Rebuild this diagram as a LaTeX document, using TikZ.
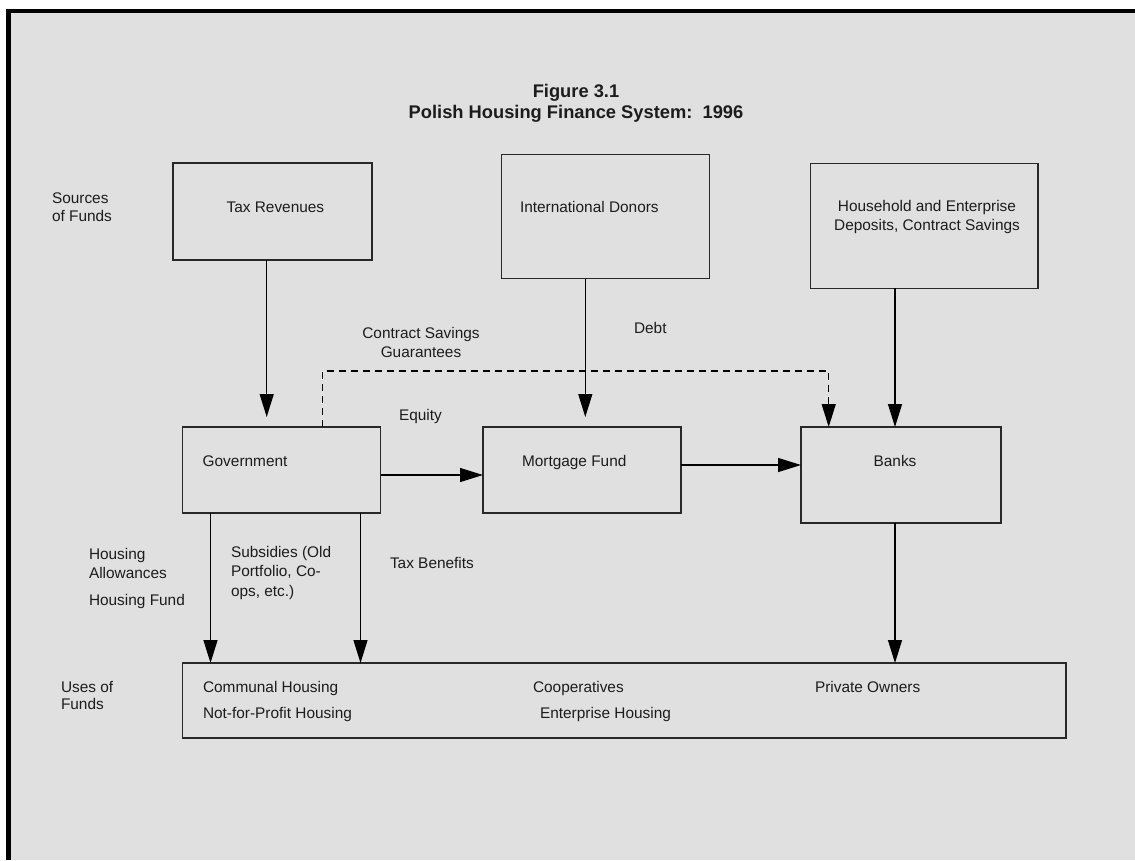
\documentclass[tikz,border=0pt]{standalone}
\usepackage{fontspec}
\setmainfont{Liberation Sans}
\usetikzlibrary{arrows.meta}
\definecolor{panel}{RGB}{224,224,224}
\definecolor{ink}{RGB}{28,28,28}
\definecolor{edge}{RGB}{40,40,40}

\begin{document}
\begin{tikzpicture}[x=1pt,y=-1pt,
  box/.style={draw=edge, line width=1.3pt, inner sep=0pt, outer sep=0pt},
  lbl/.style={inner sep=0pt, outer sep=0pt, text=ink, font=\fontsize{15.4}{19}\selectfont},
  arr/.style={draw=black, line width=1.3pt, -{Triangle[length=23pt,width=14pt]}},
  dasharr/.style={arr, dash pattern=on 7pt off 5pt}
]
% page and framed panel
\useasboundingbox (0,0) rectangle (1135,860);
\fill[white] (0,0) rectangle (1135,860);
\fill[black] (6,9) rectangle (1135,860);
\fill[panel] (10.5,12.5) rectangle (1135,860);

% title
\node[inner sep=0pt, text=ink, align=center,
      font=\bfseries\fontsize{18.3}{21}\selectfont] (title) at (576,103)
  {Figure 3.1\\Polish Housing Finance System:\ \ 1996};

% boxes
\node[box, minimum width=199pt, minimum height=97pt]  (tax)   at (272.5,211.5) {};
\node[box, minimum width=207.6pt, minimum height=124pt] (donors) at (605.5,216.7) {};
\node[box, minimum width=227.3pt, minimum height=125pt] (house) at (924.3,225.7) {};
\node[box, minimum width=198pt, minimum height=86pt]  (gov)   at (281.7,470) {};
\node[box, minimum width=198pt, minimum height=86pt]  (mort)  at (582,470) {};
\node[box, minimum width=200pt, minimum height=96pt]  (banks) at (901,475) {};
\node[box, minimum width=883.5pt, minimum height=75pt] (uses) at (624.3,700.5) {};

% texts inside boxes
\node[lbl, anchor=base] (taxtxt) at (275.4,212.5) {Tax Revenues};
\node[lbl, anchor=base west] (donorstxt) at (520,212.5) {International Donors};
\node[lbl, align=center, font=\fontsize{15.4}{18.3}\selectfont] (housetxt) at (927,217)
  {Household and Enterprise\\Deposits, Contract Savings};
\node[lbl, anchor=base west] (govtxt) at (202.7,466.5) {Government};
\node[lbl, anchor=base west] (morttxt) at (522,466.5) {Mortgage Fund};
\node[lbl, anchor=base] (bankstxt) at (895,466.5) {Banks};
\node[lbl, anchor=base west] (communal) at (203,692.5) {Communal Housing};
\node[lbl, anchor=base west] (nfp) at (203,718.5) {Not-for-Profit Housing};
\node[lbl, anchor=base west] (coop) at (533,692.5) {Cooperatives};
\node[lbl, anchor=base west] (enterprise) at (540,718.5) {Enterprise Housing};
\node[lbl, anchor=base west] (private) at (815,692.5) {Private Owners};

% side captions
\node[lbl, anchor=west, align=left, font=\fontsize{15.4}{18}\selectfont] (sources) at (52,207) {Sources\\of Funds};
\node[lbl, anchor=west, align=left, font=\fontsize{15.4}{17}\selectfont] (usesof) at (61,695) {Uses of\\Funds};

% flow labels
\node[lbl, align=center] (cs) at (421,342) {Contract Savings\\Guarantees};
\node[lbl, anchor=base west] (debt) at (634,333.5) {Debt};
\node[lbl, anchor=base west] (equity) at (399,420.5) {Equity};
\node[lbl, anchor=west, align=left] (allow) at (89,563) {Housing\\Allowances};
\node[lbl, anchor=base west] (hfund) at (89,605.5) {Housing Fund};
\node[lbl, anchor=west, align=left, font=\fontsize{15.4}{19.5}\selectfont] (subs) at (231,573)
  {Subsidies (Old\\Portfolio, Co-\\ops, etc.)};
\node[lbl, anchor=base west] (taxben) at (390,568.5) {Tax Benefits};

% arrow end points above the middle row
\coordinate (taxin) at (266.7,417);
\coordinate (donin) at (585.3,417);
\coordinate (dl) at (322.7,371);
\coordinate (dr) at (828.7,371);
\coordinate (ha) at (210.5,0);
\coordinate (sb) at (360.5,0);
\coordinate (hh) at (895,0);

% connectors
\draw[arr] (tax.south -| taxin) -- (taxin);
\draw[arr] (donors.south -| donin) -- (donin);
\draw[arr] (house.south -| hh) -- (banks.north -| hh);
\draw[dasharr] (gov.north -| dl) -- (dl) -- (dr) -- (banks.north -| dr);
\draw[arr] (gov.east |- 0,475) -- (mort.west |- 0,475);
\draw[arr] (mort.east |- 0,465) -- (banks.west |- 0,465);
\draw[arr] (gov.south -| ha) -- (uses.north -| ha);
\draw[arr] (gov.south -| sb) -- (uses.north -| sb);
\draw[arr] (banks.south -| hh) -- (uses.north -| hh);
\end{tikzpicture}
\end{document}
